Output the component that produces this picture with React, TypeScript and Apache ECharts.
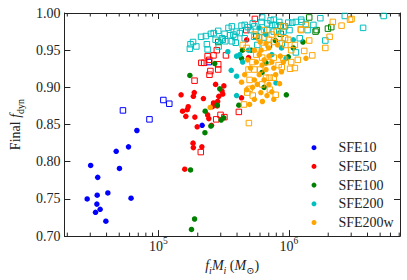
import React, { useEffect, useRef } from "react";
import * as echarts from "echarts";

const FONT = "'Liberation Serif', 'DejaVu Serif', serif";
const TXT = "#222";

const X_MIN = 1.9e4;
const X_MAX = 7.1e6;
const Y_MIN = 0.7;
const Y_MAX = 1.0;

const seriesNames = ["SFE10", "SFE50", "SFE100", "SFE200", "SFE200w"];
const seriesColors = ["#0000ff", "#ff0000", "#008000", "#00bfbf", "#ffa500"];

const sfe10Circles = [
  [3.02e4, 0.795], [3.42e4, 0.779], [4.74e4, 0.814], [5.89e4, 0.82], [5.02e4, 0.791],
  [2.84e4, 0.75], [3.39e4, 0.755], [4.09e4, 0.758], [6.16e4, 0.751], [3.37e4, 0.743],
  [3.57e4, 0.736], [3.29e4, 0.732], [3.95e4, 0.72], [6.83e4, 0.842], [2.16e5, 0.849],
];
const sfe10Squares = [
  [5.34e4, 0.869], [8.53e4, 0.857], [1.09e5, 0.883], [1.21e5, 0.878], [2.43e5, 0.934],
];

const sfe50Circles = [
  [1.49e5, 0.89], [1.88e5, 0.893], [1.85e5, 0.888], [2.21e5, 0.885], [2.74e5, 0.904],
  [3.17e5, 0.902], [2.9e5, 0.888], [3.11e5, 0.891], [2.84e5, 0.881], [2.64e5, 0.879],
  [1.69e5, 0.874], [1.66e5, 0.87], [1.53e5, 0.868], [1.62e5, 0.861], [1.9e5, 0.86],
  [2.38e5, 0.863], [2.43e5, 0.858], [1.98e5, 0.847], [2.55e5, 0.849], [2.59e5, 0.874],
  [2.82e5, 0.875], [1.84e5, 0.825], [1.85e5, 0.819], [2.15e5, 0.82], [1.59e5, 0.79],
  [4.33e5, 0.886], [4.74e5, 0.964], [4.9e5, 0.94], [3.07e5, 0.895],
];
const sfe50Squares = [
  [2.8e5, 0.95], [2.64e5, 0.943], [3.29e5, 0.943], [2.38e5, 0.942], [2.45e5, 0.937],
  [2.13e5, 0.933], [2.87e5, 0.931], [1.89e5, 0.909], [2.5e5, 0.922], [2.46e5, 0.917],
  [2.87e5, 0.924], [3.2e5, 0.86], [2.99e5, 0.863], [2.77e5, 0.857], [2.11e5, 0.813],
  [4.13e5, 0.867], [5.48e5, 0.992], [4.71e5, 0.977], [2.24e5, 0.933],
];

const sfe100Circles = [
  [2.27e5, 0.839], [1.76e5, 0.789], [1.89e5, 0.723], [1.79e5, 0.709], [4.13e5, 0.876],
  [6.45e5, 0.9], [1.74e5, 0.916], [2.7e5, 0.932], [2.95e5, 0.898], [2.82e5, 0.876],
  [2.28e5, 0.868], [3.16e5, 0.859], [3.02e5, 0.856], [2.52e5, 0.848], [7.87e5, 0.963],
  [5.13e5, 0.95], [4.33e5, 0.939], [4.4e5, 0.95], [1.08e6, 0.953], [9.88e5, 0.941],
  [6.67e5, 0.933], [1.28e6, 0.961], [6.22e5, 0.92], [9.55e5, 0.89],
];
const sfe100Squares = [
  [1.43e6, 0.994], [1.6e6, 0.975], [1.63e6, 0.977], [1.99e6, 0.979], [2.11e6, 0.981],
  [8.66e5, 0.972], [2.87e5, 0.961], [8.62e5, 0.983], [5.62e5, 0.969], [7.02e5, 0.957],
];

const sfe200Circles = [
  [3.97e5, 0.942], [4.2e5, 0.944], [3.97e5, 0.915], [3.61e5, 0.923], [7.95e5, 0.906],
  [3.97e5, 0.889], [9.5e5, 0.939], [7.39e5, 0.944], [4.9e5, 0.95], [4.42e5, 0.934],
  [8.77e5, 0.953], [5.92e5, 0.98], [6.67e5, 0.971], [1.08e6, 0.964], [3.4e5, 0.948],
];
const sfe200Squares = [
  [1.76e5, 0.958], [1.84e5, 0.961], [1.74e5, 0.952], [2.52e5, 0.972], [2.87e5, 0.976],
  [2.35e5, 0.958], [2.38e5, 0.951], [3.21e5, 0.972], [3.44e5, 0.98], [3.65e5, 0.982],
  [3.54e5, 0.97], [3.07e5, 0.966], [3.25e5, 0.962], [3.65e5, 0.962], [3.86e5, 0.968],
  [3.91e5, 0.96], [4.33e5, 0.983], [4.58e5, 0.984], [4.84e5, 0.981], [5.28e5, 0.986],
  [6.23e5, 0.994], [6.16e5, 0.988], [6.82e5, 0.986], [7.23e5, 0.99], [7.87e5, 0.984],
  [8.43e5, 0.988], [4.58e5, 0.966], [5.43e5, 0.968], [6.09e5, 0.975], [3.75e5, 0.971],
  [3.97e5, 0.975], [2.74e5, 0.964], [3.11e5, 0.964], [2.31e5, 0.969], [7.65e5, 0.991],
  [7.43e5, 0.984], [1.06e6, 0.987], [1.13e6, 0.988], [1.24e6, 0.991], [1.35e6, 0.985],
  [5.43e5, 0.982], [6.82e5, 0.977], [1.13e6, 0.947], [2.68e6, 0.996], [5.32e6, 0.996],
  [3.7e6, 0.98], [1.9e6, 0.963], [1.21e6, 0.966], [1.25e6, 0.988], [9.88e5, 0.987],
  [9.34e5, 0.982], [8.81e5, 0.959], [5.07e5, 0.977], [4.2e5, 0.973], [9.07e5, 0.975],
  [1.01e6, 0.977], [1.39e6, 0.977], [1.54e6, 0.984], [6.45e5, 0.967], [7.65e5, 0.975],
  [2.89e5, 0.955], [1.95e5, 0.955], [1.74e6, 0.993], [5.72e5, 0.957], [2.12e5, 0.968],
  [2.65e5, 0.973],
];

const sfe200wCircles = [
  [1.35e6, 0.939], [8.58e5, 0.942], [6.26e5, 0.881], [6.09e5, 0.893], [4.33e5, 0.907],
  [2.49e5, 0.873], [5.43e5, 0.95], [5.92e5, 0.944], [6.45e5, 0.937], [6.23e5, 0.93],
  [6.67e5, 0.924], [7.02e5, 0.953], [7.39e5, 0.934], [7.65e5, 0.926], [7.91e5, 0.917],
  [5.92e5, 0.917], [5.43e5, 0.91], [5.25e5, 0.9], [5.72e5, 0.904], [6.45e5, 0.91],
  [7.02e5, 0.904], [7.39e5, 0.894], [7.65e5, 0.884], [6.79e5, 0.889], [5.43e5, 0.884],
  [4.99e5, 0.877], [4.74e5, 0.897], [4.58e5, 0.917], [5.07e5, 0.926], [5.62e5, 0.934],
  [6.02e5, 0.961], [6.67e5, 0.959], [8.19e5, 0.957], [9.07e5, 0.934], [8.77e5, 0.921],
  [4.82e5, 0.937], [7.02e5, 0.942], [6.12e5, 0.95], [8.47e5, 0.905],
];
const sfe200wSquares = [
  [2.17e6, 0.988], [2.53e6, 0.983], [2.94e6, 0.991], [3.02e6, 0.992], [2.05e6, 0.968],
  [1.9e6, 0.953], [1.43e6, 0.963], [1.31e6, 0.949], [1.51e6, 0.943], [1.23e6, 0.978],
  [1.35e6, 0.984], [1.02e6, 0.925], [8.81e5, 0.927], [9.07e5, 0.939], [9.34e5, 0.966],
  [7.65e5, 0.913], [7.11e5, 0.913], [4.99e5, 0.898], [4.79e5, 0.893], [5.28e5, 0.889],
  [4.52e5, 0.877], [4.93e5, 0.852], [9.07e5, 0.982], [1.24e6, 0.977], [5.43e5, 0.971],
  [5.92e5, 0.967], [6.45e5, 0.953], [7.02e5, 0.964], [7.65e5, 0.961], [8.33e5, 0.967],
  [9.39e5, 0.957], [1.04e6, 0.95], [1.11e6, 0.957], [1.17e6, 0.937], [9.88e5, 0.964],
  [5.62e5, 0.944], [6.23e5, 0.94], [6.9e5, 0.934], [7.65e5, 0.94], [8.33e5, 0.93],
  [5.25e5, 0.934], [4.9e5, 0.924], [5.43e5, 0.924], [6.02e5, 0.924], [6.67e5, 0.913],
  [4.99e5, 0.91], [6.23e5, 0.904], [7.14e5, 0.897], [7.91e5, 0.89], [4.42e5, 0.957],
  [4.74e5, 0.953], [1.04e6, 0.934], [1.11e6, 0.926], [6.45e5, 0.977], [7.39e5, 0.971],
  [8.05e5, 0.975],
];

const circleData = [sfe10Circles, sfe50Circles, sfe100Circles, sfe200Circles, sfe200wCircles];
const squareData = [sfe10Squares, sfe50Squares, sfe100Squares, sfe200Squares, sfe200wSquares];

const minorTickValues = [
  2e4, 3e4, 4e4, 5e4, 6e4, 7e4, 8e4, 9e4,
  2e5, 3e5, 4e5, 5e5, 6e5, 7e5, 8e5, 9e5,
  2e6, 3e6, 4e6, 5e6, 6e6, 7e6,
];

export default function App() {
  const ref = useRef<HTMLDivElement>(null);
  useEffect(() => {
    if (!ref.current) return;
    const chart = echarts.init(ref.current, null, { renderer: "svg" });

    const axisLine = { show: true, lineStyle: { color: TXT, width: 1 } };
    const tickStyle = { show: true, inside: true, length: 6, lineStyle: { color: TXT, width: 1 } };

    const series: any[] = [];
    for (let i = 0; i < seriesNames.length; i++) {
      series.push({
        type: "scatter",
        name: seriesNames[i] + "_sq",
        data: squareData[i],
        symbol: "rect",
        symbolSize: 5.5,
        itemStyle: { color: "rgba(0,0,0,0)", borderColor: seriesColors[i], borderWidth: 1, opacity: 1 },
        z: 2 + i,
      });
      series.push({
        type: "scatter",
        name: seriesNames[i],
        data: circleData[i],
        symbol: "circle",
        symbolSize: 5.5,
        itemStyle: { color: seriesColors[i], opacity: 1 },
        z: 2 + i,
      });
    }
    series.push({
      type: "custom",
      name: "minorTicks",
      data: minorTickValues.map((v) => [v, Y_MIN]),
      silent: true,
      clip: false,
      z: 20,
      renderItem: (params: any, api: any) => {
        const v = api.value(0);
        const b = api.coord([v, Y_MIN]);
        const t = api.coord([v, Y_MAX]);
        return {
          type: "group",
          children: [
            { type: "line", shape: { x1: b[0], y1: b[1], x2: b[0], y2: b[1] - 3.5 }, style: { stroke: TXT, lineWidth: 1 } },
            { type: "line", shape: { x1: t[0], y1: t[1], x2: t[0], y2: t[1] + 3.5 }, style: { stroke: TXT, lineWidth: 1 } },
          ],
        };
      },
    });

    chart.setOption({
      animation: false,
      backgroundColor: "#fff",
      grid: { left: 53, right: 7, top: 13, bottom: 43 },
      legend: {
        data: seriesNames.map((n) => ({ name: n, icon: "circle" })),
        orient: "vertical",
        left: 306.5,
        top: 135.7,
        itemWidth: 5,
        itemHeight: 5,
        itemGap: 4.7,
        textStyle: { fontFamily: FONT, fontSize: 14, color: TXT, lineHeight: 14, padding: [0, 0, 0, 17] },
      },
      xAxis: [
        {
          type: "log",
          logBase: 10,
          min: X_MIN,
          max: X_MAX,
          axisLine,
          axisTick: tickStyle,
          splitLine: { show: false },
          axisLabel: {
            showMinLabel: false,
            showMaxLabel: false,
            margin: 0,
            formatter: (v: number) => {
              const e = Math.log10(v);
              if (Math.abs(e - Math.round(e)) > 1e-6) return "";
              return "{b|10}{s|" + Math.round(e) + "}";
            },
            rich: {
              b: { fontFamily: FONT, fontSize: 14, color: TXT, lineHeight: 20 },
              s: { fontFamily: FONT, fontSize: 9.5, color: TXT, lineHeight: 10, verticalAlign: "top" },
            },
          },
          name: "{i|f}{si|i}{i|M}{si|i}{r| (}{i|M}{s|⊙}{r|)}",
          nameLocation: "middle",
          nameGap: 17,
          nameTextStyle: {
            rich: {
              i: { fontFamily: FONT, fontSize: 14, fontStyle: "italic", color: TXT, lineHeight: 20 },
              r: { fontFamily: FONT, fontSize: 14, color: TXT, lineHeight: 20 },
              si: { fontFamily: FONT, fontSize: 10, fontStyle: "italic", color: TXT, lineHeight: 10, verticalAlign: "bottom" },
              s: { fontFamily: FONT, fontSize: 10, color: TXT, lineHeight: 10, verticalAlign: "bottom" },
            },
          },
        },
        {
          type: "log",
          logBase: 10,
          min: X_MIN,
          max: X_MAX,
          position: "top",
          axisLine,
          axisTick: tickStyle,
          axisLabel: { show: false },
          splitLine: { show: false },
        },
      ],
      yAxis: [
        {
          type: "value",
          min: Y_MIN,
          max: Y_MAX,
          interval: 0.05,
          axisLine,
          axisTick: tickStyle,
          splitLine: { show: false },
          axisLabel: {
            margin: 4,
            fontFamily: FONT,
            fontSize: 14,
            color: TXT,
            formatter: (v: number) => v.toFixed(2),
          },
          name: "{r|Final }{i|f}{s|dyn}",
          nameLocation: "middle",
          nameGap: 32,
          nameTextStyle: {
            rich: {
              r: { fontFamily: FONT, fontSize: 14, color: TXT, lineHeight: 20 },
              i: { fontFamily: FONT, fontSize: 14, fontStyle: "italic", color: TXT, lineHeight: 20 },
              s: { fontFamily: FONT, fontSize: 10, color: TXT, lineHeight: 10, verticalAlign: "bottom" },
            },
          },
        },
        {
          type: "value",
          min: Y_MIN,
          max: Y_MAX,
          interval: 0.05,
          position: "right",
          axisLine,
          axisTick: tickStyle,
          axisLabel: { show: false },
          splitLine: { show: false },
        },
      ],
      series,
    });
    return () => chart.dispose();
  }, []);
  return (
    <div
      ref={ref}
      style={{ position: "fixed", left: 0, top: 0, width: 407, height: 280, background: "#fff" }}
    />
  );
}
